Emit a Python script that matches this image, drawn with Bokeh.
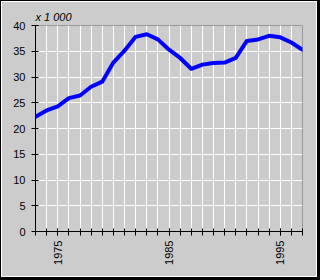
from bokeh.plotting import figure
from bokeh.models import Range1d, FixedTicker, InlineStyleSheet
from bokeh.embed import file_html
from bokeh.resources import INLINE
from math import pi

years = list(range(1973, 1998))
values = [22.3, 23.5, 24.3, 25.9, 26.4, 28.1, 29.1, 32.8, 35.1, 37.8, 38.3, 37.3,
          35.3, 33.7, 31.6, 32.4, 32.7, 32.8, 33.7, 37.0, 37.3, 38.0, 37.7, 36.7, 35.3]
x_labels = [1975, 1985, 1995]
y_ticks = [0, 5, 10, 15, 20, 25, 30, 35, 40]
unit_text = "x 1 000"

GRAY = "#cccccc"
FONT = "Liberation Sans"

p = figure(width=320, height=280, output_backend="svg", toolbar_location=None, tools="",
           x_range=Range1d(years[0], years[-1]), y_range=Range1d(0, 40),
           min_border_left=35, min_border_right=18, min_border_top=25, min_border_bottom=49,
           background_fill_color=GRAY, border_fill_color=GRAY)
p.outline_line_color = "#999999"
p.outline_line_width = 1

p.line(years, values, line_color="#0000ff", line_width=4, line_join="round", line_cap="round")

# unit note above the plot
p.title.text = unit_text
p.title.text_font = FONT
p.title.text_font_size = "11px"
p.title.text_font_style = "italic"
p.title.text_color = "black"
p.title.align = "left"
p.title.standoff = 6

# axes
p.xaxis.ticker = FixedTicker(ticks=x_labels, minor_ticks=years)
p.yaxis.ticker = FixedTicker(ticks=y_ticks)
for ax in (p.xaxis, p.yaxis):
    ax.axis_line_color = "black"
    ax.major_tick_line_color = "black"
    ax.minor_tick_line_color = "black"
    ax.major_tick_in = 3
    ax.major_tick_out = 4
    ax.minor_tick_in = 3
    ax.minor_tick_out = 4
    ax.major_label_text_font = FONT
    ax.major_label_text_font_size = "11px"
    ax.major_label_text_color = "black"
p.yaxis.major_label_standoff = 6
p.xaxis.major_label_standoff = 5
p.xaxis.major_label_orientation = pi / 2

p.xgrid.grid_line_color = "white"
p.xgrid.minor_grid_line_color = "white"
p.ygrid.grid_line_color = "white"

# outer 3D-like frame around the whole chart
p.stylesheets = [InlineStyleSheet(css="""
:host::after {
  content: "";
  position: absolute;
  left: 0; top: 0;
  width: 320px; height: 280px;
  box-sizing: border-box;
  border-style: solid;
  border-color: black;
  border-width: 1px 3px 3px 1px;
  box-shadow: inset 1px 1px 0 white, inset -1px -1px 0 white;
  pointer-events: none;
  z-index: 100;
}
""")]

open("out.html", "w").write(file_html(p, INLINE))
